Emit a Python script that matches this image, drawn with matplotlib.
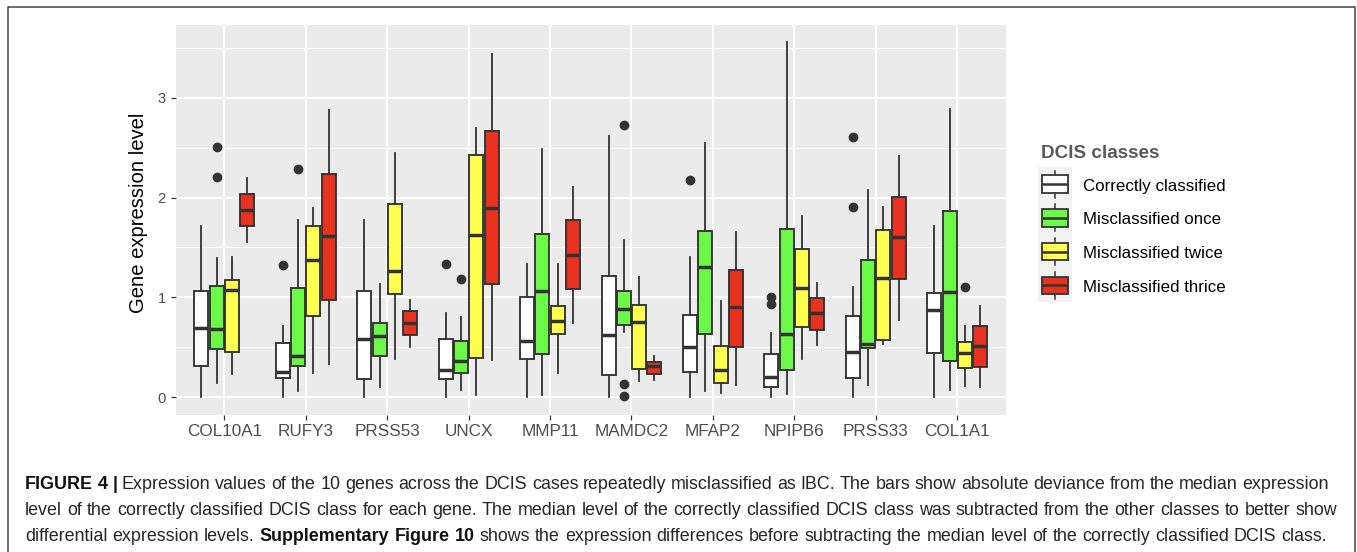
import matplotlib
matplotlib.use("Agg")
import matplotlib.pyplot as plt
from matplotlib.patches import Rectangle
from matplotlib.lines import Line2D
from matplotlib.ticker import FixedLocator

# ---------------- data ----------------
genes = ["COL10A1", "RUFY3", "PRSS53", "UNCX", "MMP11",
         "MAMDC2", "MFAP2", "NPIPB6", "PRSS33", "COL1A1"]
classes = ["Correctly classified", "Misclassified once",
           "Misclassified twice", "Misclassified thrice"]
colors = ["#FFFFFF", "#6CF846", "#FFFF50", "#E8321F"]

# rows = genes, columns = classes
whislo = [[0.00, 0.14, 0.23, 1.55],
          [0.00, 0.06, 0.24, 0.33],
          [0.00, 0.10, 0.38, 0.50],
          [0.00, 0.07, 0.02, 0.37],
          [0.00, 0.02, 0.24, 0.74],
          [0.00, 0.65, 0.16, 0.17],
          [0.00, 0.06, 0.04, 0.12],
          [0.00, 0.03, 0.38, 0.52],
          [0.00, 0.12, 0.53, 0.77],
          [0.00, 0.07, 0.11, 0.10]]
q1 = [[0.31, 0.48, 0.45, 1.71],
      [0.19, 0.31, 0.81, 0.97],
      [0.18, 0.41, 1.03, 0.62],
      [0.18, 0.24, 0.39, 1.13],
      [0.38, 0.43, 0.63, 1.08],
      [0.22, 0.72, 0.28, 0.23],
      [0.25, 0.63, 0.14, 0.50],
      [0.10, 0.27, 0.70, 0.67],
      [0.19, 0.49, 0.57, 1.18],
      [0.44, 0.36, 0.29, 0.30]]
med = [[0.69, 0.68, 1.07, 1.88],
       [0.25, 0.41, 1.37, 1.61],
       [0.58, 0.61, 1.26, 0.74],
       [0.27, 0.36, 1.62, 1.90],
       [0.56, 1.06, 0.76, 1.42],
       [0.62, 0.88, 0.75, 0.31],
       [0.50, 1.30, 0.27, 0.90],
       [0.20, 0.63, 1.09, 0.84],
       [0.45, 0.53, 1.19, 1.60],
       [0.87, 1.05, 0.44, 0.51]]
q3 = [[1.06, 1.11, 1.17, 2.04],
      [0.54, 1.09, 1.71, 2.24],
      [1.06, 0.74, 1.94, 0.86],
      [0.58, 0.56, 2.43, 2.67],
      [1.00, 1.63, 0.91, 1.77],
      [1.21, 1.06, 0.92, 0.35],
      [0.82, 1.66, 0.51, 1.27],
      [0.43, 1.68, 1.48, 0.99],
      [0.81, 1.37, 1.67, 2.01],
      [1.04, 1.87, 0.55, 0.71]]
whishi = [[1.71, 1.39, 1.40, 2.20],
          [0.71, 1.77, 1.90, 2.88],
          [1.77, 1.13, 2.45, 0.97],
          [0.84, 0.80, 2.70, 3.44],
          [1.33, 2.49, 1.33, 2.11],
          [2.62, 1.57, 1.20, 0.41],
          [1.40, 2.55, 0.96, 1.65],
          [0.64, 3.56, 1.82, 1.14],
          [1.10, 2.08, 1.91, 2.42],
          [1.71, 2.89, 0.71, 0.91]]
# outliers: (gene, class index) -> values
outliers = {
    ("COL10A1", 1): [2.51, 2.21],
    ("RUFY3", 0): [1.32],
    ("RUFY3", 1): [2.29],
    ("UNCX", 0): [1.33],
    ("UNCX", 1): [1.18],
    ("MAMDC2", 1): [2.73, 0.13, 0.01],
    ("MFAP2", 0): [2.18],
    ("NPIPB6", 0): [1.00, 0.93],
    ("PRSS33", 0): [2.61, 1.91],
    ("COL1A1", 2): [1.10],
}
y_ticks = [0, 1, 2, 3]
y_label = "Gene expression level"
legend_title = "DCIS classes"

caption_lines = [
    [("FIGURE 4 |", "bold"),
     ("Expression values of the 10 genes across the DCIS cases repeatedly misclassified as IBC. "
      "The bars show absolute deviance from the median expression", "normal")],
    [("level of the correctly classified DCIS class for each gene. The median level of the correctly "
      "classified DCIS class was subtracted from the other classes to better show", "normal")],
    [("differential expression levels.", "normal"),
     ("Supplementary Figure 10", "bold"),
     ("shows the expression differences before subtracting the median level of the correctly "
      "classified DCIS class.", "normal")],
]

# ---------------- figure ----------------
FONT = "Liberation Sans"
plt.rcParams['font.family'] = [FONT, 'DejaVu Sans']

W, H = 1357, 552
fig = plt.figure(figsize=(W / 100, H / 100), dpi=100)
fig.patch.set_facecolor("white")

pl, pr, pt, pb = 175.5, 1006.0, 25.0, 415.0
ax = fig.add_axes([pl / W, 1 - pb / H, (pr - pl) / W, (pb - pt) / H])
ax.set_facecolor("#EBEBEB")
for sp in ax.spines.values():
    sp.set_visible(False)
ax.set_axisbelow(True)

step = 0.1875
bw = 0.172
edge = "#333333"
for c in range(len(classes)):
    stats, pos = [], []
    for g in range(len(genes)):
        stats.append(dict(med=med[g][c], q1=q1[g][c], q3=q3[g][c],
                          whislo=whislo[g][c], whishi=whishi[g][c],
                          fliers=outliers.get((genes[g], c), [])))
        pos.append(g + 1 + (c - 1.5) * step)
    ax.bxp(stats, positions=pos, widths=bw, patch_artist=True, showcaps=False,
           manage_ticks=False,
           boxprops=dict(facecolor=colors[c], edgecolor=edge, linewidth=1.35),
           medianprops=dict(color=edge, linewidth=2.5, solid_capstyle="butt"),
           whiskerprops=dict(color=edge, linewidth=1.3),
           flierprops=dict(marker="o", markerfacecolor=edge, markeredgecolor=edge,
                           markersize=6, linestyle="none"))

ax.set_xlim(0.4, 10.6)
ax.set_ylim(-0.18, 3.73)
ax.set_xticks(range(1, len(genes) + 1))
ax.set_xticklabels(genes)
ax.set_yticks(y_ticks)
ax.set_yticklabels([str(v) for v in y_ticks])
ax.yaxis.set_minor_locator(FixedLocator([0.5, 1.5, 2.5, 3.5]))
ax.grid(which="major", color="white", linewidth=1.5)
ax.grid(which="minor", axis="y", color="white", linewidth=0.75)
ax.tick_params(axis="both", which="major", color=edge, length=3.6, width=0.9,
               labelcolor="#4D4D4D")
ax.tick_params(axis="x", labelsize=12.3, pad=3)
ax.tick_params(axis="y", labelsize=10.6, pad=3.5)
ax.tick_params(which="minor", length=0)

# ---------------- overlay in pixel coordinates ----------------
ov = fig.add_axes([0, 0, 1, 1])
ov.set_xlim(0, W)
ov.set_ylim(H, 0)
ov.axis("off")
ov.patch.set_visible(False)

# border
ov.plot([7.5, 7.5, 1354.5, 1354.5], [H + 5, 7, 7, H + 5], color="#444444",
        linewidth=1.1, clip_on=False)

# y label
ov.text(138, 212.5, y_label, rotation=90, ha="center", va="center",
        fontsize=14.6, color="black")

# legend
ov.add_patch(Rectangle((1038.3, 166.7), 33.4, 135.0, facecolor="#F2F2F2",
                       edgecolor="none"))
ov.text(1041, 157.7, legend_title, fontsize=13.6, fontweight="bold",
        color="#5A5A5A", va="baseline", ha="left")
for i, (name, col) in enumerate(zip(classes, colors)):
    cy = 184.0 + i * 33.8
    ov.add_line(Line2D([1055, 1055], [cy - 13.5, cy + 13.5], color=edge,
                       linewidth=1.1, zorder=2))
    ov.add_patch(Rectangle((1042, cy - 8.8), 26, 17.6, facecolor=col,
                           edgecolor=edge, linewidth=1.3, zorder=3))
    ov.add_line(Line2D([1042, 1068], [cy, cy], color=edge, linewidth=1.8,
                       zorder=4, solid_capstyle="butt"))
    ov.text(1083, cy + 6.6, name, fontsize=12.2, color="black",
            va="baseline", ha="left")

# caption (justified word by word)
renderer = fig.canvas.get_renderer()
line_x0 = 25.0
line_x1 = [1329.0, 1337.0, 1327.0]
baselines = [489.3, 515.0, 540.7]
cap_color = "#262626"


def words_of(line):
    out = []
    for text, weight in line:
        for w in text.split():
            out.append((w, weight))
    return out


def natural_width(words, size):
    total = 0.0
    for w, weight in words:
        t = ov.text(0, 0, w, fontsize=size, fontweight=weight)
        total += t.get_window_extent(renderer).width
        t.remove()
    t = ov.text(0, 0, "a a", fontsize=size)
    t2 = ov.text(0, 0, "aa", fontsize=size)
    space = t.get_window_extent(renderer).width - t2.get_window_extent(renderer).width
    t.remove()
    t2.remove()
    return total, space


base_size = 11.0
fits = []
for i, line in enumerate(caption_lines):
    wds = words_of(line)
    tw, sp = natural_width(wds, base_size)
    nat = tw + sp * (len(wds) - 1)
    fits.append(base_size * (line_x1[i] - line_x0) / nat)
cap_size = min(min(fits), 13.2)

for i, line in enumerate(caption_lines):
    wds = words_of(line)
    texts, widths = [], []
    for w, weight in wds:
        t = ov.text(0, baselines[i], w, fontsize=cap_size, fontweight=weight,
                    color=cap_color if weight == "normal" else "#111111",
                    va="baseline", ha="left")
        texts.append(t)
        widths.append(t.get_window_extent(renderer).width)
    gap = (line_x1[i] - line_x0 - sum(widths)) / (len(wds) - 1)
    x = line_x0
    for t, wdt in zip(texts, widths):
        t.set_x(x)
        x += wdt + gap

fig.savefig("out.png", dpi=100, facecolor="white")
